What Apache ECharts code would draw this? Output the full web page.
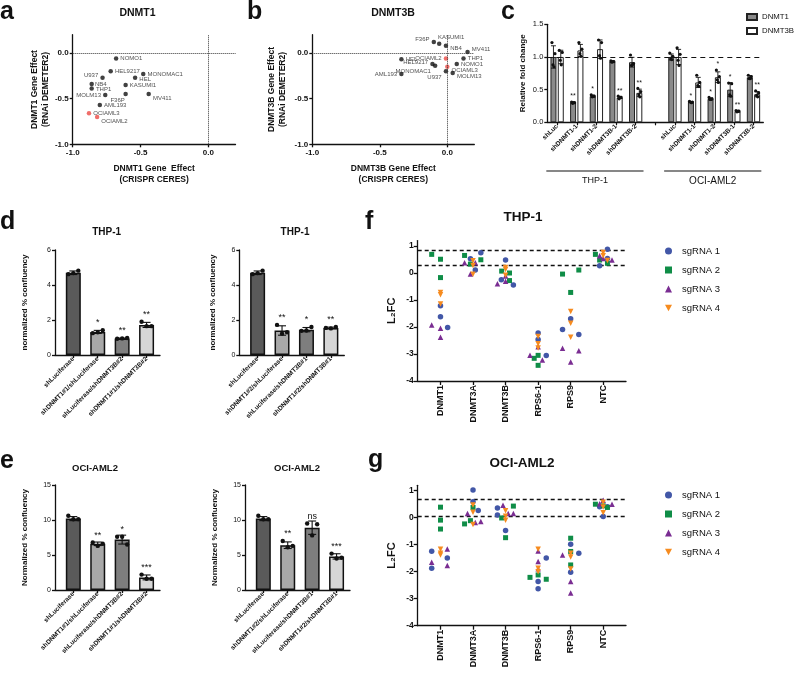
<!DOCTYPE html>
<html>
<head>
<meta charset="utf-8">
<script src="https://cdn.jsdelivr.net/npm/echarts@6/dist/echarts.min.js"></script>
<style>
html, body { margin: 0; padding: 0; background: #fff; }
#main { width: 798px; height: 676px; }
</style>
</head>
<body>
<div id="main"></div>
<script>
'use strict';

// ---- a / b : DepMap gene effect per AML cell line ----
const cellLines = ['NOMO1', 'HEL9217', 'MONOMAC1', 'U937', 'HEL', 'NB4', 'KASUMI1', 'THP1', 'MOLM13', 'F36P', 'MV411', 'AML193', 'OCIAML3', 'OCIAML2'];
const dnmt1Crispr = [-0.68, -0.72, -0.48, -0.78, -0.54, -0.86, -0.61, -0.86, -0.76, -0.61, -0.44, -0.80, -0.88, -0.82];
const dnmt1Rnai = [-0.06, -0.20, -0.23, -0.27, -0.27, -0.34, -0.35, -0.39, -0.46, -0.45, -0.45, -0.57, -0.66, -0.70];
const dnmt3bCrispr = [0.07, -0.11, -0.09, -0.01, -0.34, -0.01, -0.06, 0.12, 0.04, -0.10, 0.15, -0.34, 0.00, -0.01];
const dnmt3bRnai = [-0.12, -0.12, -0.14, -0.20, -0.07, 0.08, 0.10, -0.06, -0.22, 0.12, 0.01, -0.23, -0.15, -0.06];
const highlighted = ['OCIAML3', 'OCIAML2'];

// ---- c : knockdown qPCR ----
const kdCats = ['shLuc', 'shDNMT1-1', 'shDNMT1-2', 'shDNMT3B-1', 'shDNMT3B-2', '', 'shLuc', 'shDNMT1-1', 'shDNMT1-2', 'shDNMT3B-1', 'shDNMT3B-2'];
const kdGroups = ['THP-1', 'OCI-AML2'];
const dnmt1Fold = [1.00, 0.30, 0.40, 0.93, 0.92, null, 1.00, 0.31, 0.36, 0.50, 0.69];
const dnmt3bFold = [1.00, 1.10, 1.12, 0.38, 0.45, null, 1.00, 0.61, 0.69, 0.17, 0.43];
const dnmt1Reps = [[1.22, 1.05, 0.88, 0.85], [0.31, 0.30, 0.29, 0.30], [0.42, 0.40, 0.39, 0.40], [0.94, 0.93, 0.92, 0.93], [1.03, 0.90, 0.87, 0.88], null,
  [1.06, 1.01, 0.97, 0.96], [0.32, 0.31, 0.31, 0.30], [0.38, 0.36, 0.35, 0.35], [0.60, 0.59, 0.42, 0.40], [0.72, 0.70, 0.67, 0.67]];
const dnmt3bReps = [[1.10, 1.07, 0.95, 0.88], [1.22, 1.12, 1.05, 1.01], [1.26, 1.22, 1.02, 0.98], [0.40, 0.38, 0.36, 0.38], [0.52, 0.47, 0.42, 0.39], null,
  [1.14, 1.04, 0.95, 0.87], [0.72, 0.61, 0.56, 0.55], [0.80, 0.70, 0.65, 0.61], [0.18, 0.17, 0.16, 0.17], [0.48, 0.45, 0.41, 0.39]];
const dnmt1Stars = ['', '**', '*', '', '', '', '', '*', '*', '*', ''];
const dnmt3bStars = ['', '', '', '**', '**', '', '', '', '*', '**', '**'];

// ---- d / e : confluency ----
const combos1 = ['shLuciferase', 'shDNMT1#1/shLuciferase', 'shLuciferase/shDNMT3B#2', 'shDNMT1#1/shDNMT3B#2'];
const combos2 = ['shLuciferase', 'shDNMT1#2/shLuciferase', 'shLuciferase/shDNMT3B#1', 'shDNMT1#2/shDNMT3B#1'];
const thpConf1 = [4.70, 1.32, 0.95, 1.72];
const thpConf1Reps = [[4.62, 4.68, 4.82], [1.25, 1.30, 1.42], [0.93, 0.95, 0.97], [1.90, 1.65, 1.65]];
const thpConf1Stars = ['', '*', '**', '**'];
const thpConf2 = [4.70, 1.40, 1.45, 1.55];
const thpConf2Reps = [[4.62, 4.68, 4.82], [1.72, 1.22, 1.30], [1.38, 1.40, 1.60], [1.55, 1.52, 1.60]];
const thpConf2Stars = ['', '**', '*', '**'];
const ociConf1 = [10.2, 6.6, 7.2, 1.8];
const ociConf1Reps = [[10.6, 10.1, 10.1], [6.8, 6.3, 6.6], [7.6, 7.6, 6.5], [2.2, 1.6, 1.6]];
const ociConf1Stars = ['', '**', '*', '***'];
const ociConf2 = [10.2, 6.4, 8.9, 4.8];
const ociConf2Reps = [[10.6, 10.1, 10.1], [7.0, 6.1, 6.3], [9.5, 7.8, 9.4], [5.2, 4.5, 4.6]];
const ociConf2Stars = ['', '**', 'ns', '***'];

// ---- f / g : CRISPR screen L2FC, [target index, jitter, L2FC] ----
const targets = ['DNMT1', 'DNMT3A', 'DNMT3B', 'RPS6-1', 'RPS9', 'NTC'];
const sgNames = ['sgRNA 1', 'sgRNA 2', 'sgRNA 3', 'sgRNA 4'];
const thpSg1 = [[0, 0, -1.21], [0, 0, -1.62], [0, 0.22, -2.02], [1, -0.08, 0.53], [1, 0.07, 0.11], [1, 0.24, 0.75], [2, 0, 0.48], [2, -0.13, -0.25], [2, 0.24, -0.44],
  [3, 0, -2.22], [3, 0, -2.46], [3, 0.25, -3.06], [4, -0.25, -2.09], [4, 0, -1.69], [4, 0.25, -2.28], [5, -0.11, 0.27], [5, 0.13, 0.88], [5, 0.13, 0.54]];
const thpSg2 = [[0, -0.27, 0.69], [0, 0, 0.51], [0, 0, -0.17], [1, -0.26, 0.65], [1, -0.08, 0.33], [1, 0.24, 0.49], [2, -0.12, 0.07], [2, 0.12, 0.0], [2, 0.12, -0.28],
  [3, -0.12, -3.16], [3, 0, -3.05], [3, 0, -3.42], [4, -0.25, -0.04], [4, 0, -0.72], [4, 0.25, 0.11], [5, -0.24, 0.69], [5, -0.11, 0.48], [5, 0.13, 0.36]];
const thpSg3 = [[0, -0.27, -1.93], [0, 0, -2.05], [0, 0, -2.38], [1, -0.26, 0.38], [1, -0.08, -0.04], [1, 0.07, 0.38], [2, -0.25, -0.40], [2, 0, -0.11], [2, 0, -0.31],
  [3, -0.25, -3.05], [3, 0, -2.73], [3, 0.13, -3.22], [4, -0.25, -2.79], [4, 0, -3.30], [4, 0.25, -2.88], [5, -0.11, 0.64], [5, 0, 0.54], [5, 0.27, 0.48]];
const thpSg4 = [[0, 0, -0.72], [0, 0, -0.81], [0, 0, -1.15], [1, 0, 0.45], [1, 0, 0.28], [1, 0, -0.05], [2, 0, 0.20], [2, 0, 0.13], [2, 0, -0.08],
  [3, 0, -2.35], [3, 0, -2.62], [3, 0, -2.78], [4, 0, -1.43], [4, 0, -1.86], [4, 0, -2.38], [5, 0, 0.76], [5, 0, 0.64], [5, 0.13, 0.46]];
const ociSg1 = [[0, -0.27, -1.24], [0, -0.27, -1.87], [0, 0.21, -1.49], [1, 0, 1.03], [1, 0, 0.59], [1, 0.16, 0.27], [2, -0.25, 0.36], [2, -0.25, 0.10], [2, 0, -0.47],
  [3, 0, -2.36], [3, 0, -2.63], [3, 0.25, -1.49], [4, 0, -0.98], [4, 0, -2.02], [4, 0.25, -1.32], [5, 0, 0.04], [5, -0.11, 0.41], [5, 0.13, 0.41]];
const ociSg2 = [[0, 0, 0.39], [0, 0, -0.09], [0, 0, -0.42], [1, -0.26, -0.23], [1, -0.08, -0.11], [1, 0, 0.38], [2, -0.12, -0.01], [2, 0, -0.74], [2, 0.24, 0.43],
  [3, -0.25, -2.21], [3, 0, -2.12], [3, 0.25, -2.28], [4, 0, -0.76], [4, 0, -1.25], [4, 0, -1.75], [5, -0.24, 0.50], [5, 0, 0.44], [5, 0.13, 0.38]];
const ociSg3 = [[0, -0.27, -1.65], [0, 0.21, -1.16], [0, 0.21, -1.77], [1, -0.17, 0.16], [1, 0.07, -0.18], [1, 0.24, -0.14], [2, -0.08, 0.46], [2, 0.08, 0.16], [2, 0.24, 0.16],
  [3, 0, -1.23], [3, 0, -1.62], [3, 0, -1.89], [4, -0.25, -1.38], [4, 0, -2.36], [4, 0, -2.79], [5, 0, 0.65], [5, 0.27, 0.50], [5, -0.11, 0.52]];
const ociSg4 = [[0, 0, -1.17], [0, 0, -1.32], [0, 0, -1.38], [1, 0, 0.47], [1, 0, 0.20], [1, 0, -0.25], [2, 0, 0.26], [2, 0, -0.09], [2, 0, 0.05],
  [3, 0, -1.17], [3, 0, -1.87], [3, 0, -2.00], [4, 0, -1.46], [4, 0, -1.32], [4, 0, -1.90], [5, 0, 0.57], [5, 0, 0.18], [5, 0, 0.40]];
const thpCutoffs = [0.83, 0.28];
const ociCutoffs = [0.69, 0.07];

// ---------------------------------------------------------------
const FONT = 'Arial, "Liberation Sans", Helvetica, sans-serif';
const INK = '#111';
const RED = '#ec4a45';
const sgColors = ['#4257a7', '#0f8d47', '#7a2d92', '#f68b1f'];
const sgSymbols = ['circle', 'rect', 'triangle', 'path://M0,0L10,0L5,9Z'];
const sgSizes = [5.5, 5, 5.5, 5.5];
const confColors = ['#5a5a5a', '#a8a8a8', '#7e7e7e', '#d6d6d6'];

function stdev(arr) {
    let m = arr.reduce((s, v) => s + v, 0) / arr.length;
    let ss = arr.reduce((s, v) => s + (v - m) * (v - m), 0);
    return Math.sqrt(ss / (arr.length - 1));
}

function valueAxis(p) {
    return {
        type: 'value', gridIndex: p.grid, min: p.min, max: p.max,
        name: p.name || '', nameLocation: 'middle', nameGap: p.nameGap || 20,
        nameTextStyle: {color: INK, fontFamily: FONT, fontWeight: 'bold', fontSize: p.nameSize || 8.5, lineHeight: p.nameLH || 11},
        axisLine: {show: true, onZero: false, lineStyle: {color: INK, width: 1.3}},
        axisTick: {show: true, length: p.tickLen || 3, customValues: p.ticks, lineStyle: {color: INK, width: 1.3}},
        axisLabel: {
            show: true, customValues: p.ticks, formatter: p.fmt, color: INK, fontFamily: FONT,
            fontSize: p.labelSize || 8, fontWeight: p.labelWeight || 'bold', margin: p.margin || 4,
            rotate: p.rotate || 0
        },
        splitLine: {show: false}
    };
}

const fix1 = v => v.toFixed(1);
const int0 = v => String(Math.round(v));

// 散点标签位置 [position, dx, dy]
const labelSideA = {
    NOMO1: ['right', 0, 0], HEL9217: ['right', 0, 0], MONOMAC1: ['right', 0, 0], U937: ['left', 0, -2],
    HEL: ['right', 0, 2], NB4: ['right', -1, 0], KASUMI1: ['right', 0, 0], THP1: ['right', 0, 1],
    MOLM13: ['left', 0, 0], F36P: ['bottom', -8, -1], MV411: ['right', 0, 4], AML193: ['right', 0, 0],
    OCIAML3: ['right', 0, 0], OCIAML2: ['right', 0, 4]
};
const labelSideB = {
    NOMO1: ['right', 0, 0], HEL9217: ['left', 0, -2], MONOMAC1: ['left', 0, 6], U937: ['left', 0, 6],
    HEL: ['right', 0, 0], NB4: ['right', 0, 3], KASUMI1: ['top', 12, 1], THP1: ['right', 0, 0],
    MOLM13: ['right', 0, 3], F36P: ['left', 0, -3], MV411: ['right', 0, -3], AML193: ['left', 0, 0],
    OCIAML3: ['right', 0, 4], OCIAML2: ['left', 0, 0]
};

function scatterPanel(gi, xs, ys, sides) {
    return {
        type: 'scatter', name: 'lines' + gi, xAxisIndex: gi, yAxisIndex: gi, symbolSize: 4.5, z: 3,
        data: cellLines.map((n, i) => ({
            name: n, value: [xs[i], ys[i]],
            itemStyle: {color: highlighted.indexOf(n) >= 0 ? RED : INK},
            label: {position: sides[n][0], offset: [sides[n][1], sides[n][2]]}
        })),
        label: {show: true, formatter: '{b}', fontSize: 6, fontFamily: FONT, color: '#222', distance: 2},
        markLine: {
            silent: true, symbol: 'none', label: {show: false},
            lineStyle: {type: 'dotted', color: '#333', width: 1},
            data: [{xAxis: 0}, {yAxis: 0}]
        }
    };
}

// 误差线 + 重复点 + 显著性标记
function repLayer(cfg) {
    return {
        type: 'custom', name: cfg.name, xAxisIndex: cfg.gi, yAxisIndex: cfg.gi, z: 5, silent: true,
        data: cfg.means.map((m, i) => [i, m == null ? 0 : m]),
        encode: {x: 0, y: 1},
        renderItem: function (params, api) {
            let i = params.dataIndex;
            let reps = cfg.reps[i];
            if (!reps) return null;
            let m = cfg.means[i];
            let sd = stdev(reps);
            let cx = api.coord([i, m])[0] + cfg.dx;
            let yTop = api.coord([i, m + sd])[1];
            let yBot = api.coord([i, Math.max(m - sd, 0)])[1];
            let ln = {stroke: INK, lineWidth: cfg.lw};
            let kids = [
                {type: 'line', shape: {x1: cx, y1: yTop, x2: cx, y2: yBot}, style: ln},
                {type: 'line', shape: {x1: cx - cfg.cap, y1: yTop, x2: cx + cfg.cap, y2: yTop}, style: ln},
                {type: 'line', shape: {x1: cx - cfg.cap, y1: yBot, x2: cx + cfg.cap, y2: yBot}, style: ln}
            ];
            let hi = yTop;
            reps.forEach((v, k) => {
                let py = api.coord([i, v])[1];
                hi = Math.min(hi, py - cfg.r);
                kids.push({type: 'circle', shape: {cx: cx + cfg.jitter[k % cfg.jitter.length], cy: py, r: cfg.r}, style: {fill: INK}});
            });
            let star = cfg.stars[i];
            if (star) {
                kids.push({
                    type: 'text',
                    style: {
                        text: star, x: cx, y: hi - 0.5, align: 'center', verticalAlign: 'bottom',
                        textAlign: 'center', textVerticalAlign: 'bottom',
                        font: cfg.starFont, fill: INK
                    }
                });
            }
            return {type: 'group', children: kids};
        }
    };
}

function confBars(gi, means) {
    return {
        type: 'bar', name: 'conf' + gi, xAxisIndex: gi, yAxisIndex: gi, barWidth: 15, silent: true, z: 2,
        itemStyle: {borderColor: INK, borderWidth: 1.5},
        data: means.map((m, i) => ({value: [i, m], itemStyle: {color: confColors[i]}}))
    };
}

function confReps(gi, means, reps, stars) {
    return repLayer({
        name: 'confReps' + gi, gi: gi, means: means, reps: reps, stars: stars, dx: 0,
        cap: 4, r: 2.2, lw: 1.1, jitter: [-5, 0, 5], starFont: '9px ' + FONT
    });
}

function sgSeries(gi, sets, cutoffs) {
    return sets.map((pts, k) => {
        let s = {
            type: 'scatter', name: sgNames[k], xAxisIndex: gi, yAxisIndex: gi,
            symbol: sgSymbols[k], symbolSize: sgSizes[k], z: 3 + k * 0.1,
            itemStyle: {color: sgColors[k], opacity: 1},
            data: pts.map(p => [p[0] + p[1], p[2]])
        };
        if (k === 0) {
            s.markLine = {
                silent: true, symbol: 'none', label: {show: false}, z: 1,
                lineStyle: {type: [4, 3], color: INK, width: 1.3},
                data: cutoffs.map(c => ({yAxis: c}))
            };
        }
        return s;
    });
}

function txt(text, x, y, size, weight, align, vAlign) {
    return {
        type: 'text', x: x, y: y, silent: true,
        style: {
            text: text, font: weight + ' ' + size + 'px ' + FONT, fill: INK,
            align: align || 'center', verticalAlign: vAlign || 'middle',
            textAlign: align || 'center', textVerticalAlign: vAlign || 'middle'
        }
    };
}

// ---- grids ----
const gridBox = [
    {left: 72.7, top: 34.7, width: 162.8, height: 109.6},   // a
    {left: 312.3, top: 34.7, width: 162, height: 109.6},    // b
    {left: 547.3, top: 24.3, width: 216, height: 98},       // c
    {left: 55, top: 250, width: 105, height: 105},          // d left
    {left: 239.3, top: 250, width: 105, height: 105},       // d right
    {left: 55, top: 485, width: 105, height: 105},          // e left
    {left: 245, top: 485, width: 105, height: 105},         // e right
    {left: 417.7, top: 240.6, width: 208.3, height: 140.4}, // f
    {left: 417.7, top: 485.3, width: 208.3, height: 140.4}  // g
];

const xAxes = [];
const yAxes = [];

// a, b
xAxes.push(valueAxis({grid: 0, min: -1, max: 0.2, ticks: [-1, -0.5, 0], fmt: fix1, name: 'DNMT1 Gene  Effect\n(CRISPR CERES)', nameGap: 19}));
yAxes.push(valueAxis({grid: 0, min: -1, max: 0.2, ticks: [-1, -0.5, 0], fmt: fix1, name: 'DNMT1 Gene Effect\n(RNAi DEMETER2)', nameGap: 22}));
xAxes.push(valueAxis({grid: 1, min: -1, max: 0.2, ticks: [-1, -0.5, 0], fmt: fix1, name: 'DNMT3B Gene Effect\n(CRISPR CERES)', nameGap: 19}));
yAxes.push(valueAxis({grid: 1, min: -1, max: 0.2, ticks: [-1, -0.5, 0], fmt: fix1, name: 'DNMT3B Gene Effect\n(RNAi DEMETER2)', nameGap: 24}));

// c
xAxes.push({
    type: 'category', gridIndex: 2, data: kdCats, boundaryGap: true,
    axisLine: {show: true, onZero: false, lineStyle: {color: INK, width: 1.3}},
    axisTick: {show: true, alignWithLabel: true, length: 3, lineStyle: {color: INK, width: 1.2}},
    axisLabel: {interval: 0, rotate: 45, fontSize: 6.5, fontWeight: 'bold', fontFamily: FONT, color: INK, margin: 3}
});
yAxes.push(valueAxis({grid: 2, min: 0, max: 1.5, ticks: [0, 0.5, 1, 1.5], fmt: fix1, name: 'Relative fold change', nameGap: 19, nameSize: 8, labelWeight: 'normal', labelSize: 7.5}));

// d, e
[[3, combos1, 6, 'normalized % confluency', 25], [4, combos2, 6, 'normalized % confluency', 21],
 [5, combos1, 15, 'Normalized % confluency', 25], [6, combos2, 15, 'Normalized % confluency', 25]].forEach(c => {
    xAxes.push(valueAxis({grid: c[0], min: -0.75, max: 3.55, ticks: [0, 1, 2, 3], fmt: v => c[1][Math.round(v)], rotate: 45, labelSize: 6.5, margin: 3}));
    let step = c[2] / 3;
    yAxes.push(valueAxis({grid: c[0], min: 0, max: c[2], ticks: [0, step, 2 * step, 3 * step], fmt: int0, name: c[3], nameGap: c[4], nameSize: 8, labelSize: 7, labelWeight: 'normal'}));
});

// f, g
[7, 8].forEach(gi => {
    xAxes.push(valueAxis({grid: gi, min: -0.7, max: 5.7, ticks: [0, 1, 2, 3, 4, 5], fmt: v => targets[Math.round(v)], rotate: 90, labelSize: 9, margin: 4, tickLen: 4}));
    yAxes.push(valueAxis({grid: gi, min: -4, max: 1.2, ticks: [-4, -3, -2, -1, 0, 1], fmt: int0, name: 'L\u2082FC', nameGap: 20, nameSize: 11, labelSize: 8.5, tickLen: 4}));
});

const series = [];
series.push(scatterPanel(0, dnmt1Crispr, dnmt1Rnai, labelSideA));
series.push(scatterPanel(1, dnmt3bCrispr, dnmt3bRnai, labelSideB));

// c bars
series.push({
    type: 'bar', name: 'DNMT1', xAxisIndex: 2, yAxisIndex: 2, barWidth: 6, barGap: '22%', z: 2, silent: true,
    itemStyle: {color: '#8a8a8a', borderColor: '#222', borderWidth: 1},
    data: dnmt1Fold,
    markLine: {
        silent: true, symbol: 'none', label: {show: false},
        lineStyle: {type: [5, 4], color: INK, width: 1.2},
        data: [{yAxis: 1}]
    }
});
series.push({
    type: 'bar', name: 'DNMT3B', xAxisIndex: 2, yAxisIndex: 2, barWidth: 6, barGap: '22%', z: 2, silent: true,
    itemStyle: {color: '#ffffff', borderColor: '#222', borderWidth: 1},
    data: dnmt3bFold
});
series.push(repLayer({name: 'dnmt1Reps', gi: 2, means: dnmt1Fold, reps: dnmt1Reps, stars: dnmt1Stars, dx: -3.66, cap: 2.5, r: 1.6, lw: 0.9, jitter: [-1.5, 1.5, -0.5, 0.5], starFont: '7px ' + FONT}));
series.push(repLayer({name: 'dnmt3bReps', gi: 2, means: dnmt3bFold, reps: dnmt3bReps, stars: dnmt3bStars, dx: 3.66, cap: 2.5, r: 1.6, lw: 0.9, jitter: [-1.5, 1.5, -0.5, 0.5], starFont: '7px ' + FONT}));

// d, e
series.push(confBars(3, thpConf1), confReps(3, thpConf1, thpConf1Reps, thpConf1Stars));
series.push(confBars(4, thpConf2), confReps(4, thpConf2, thpConf2Reps, thpConf2Stars));
series.push(confBars(5, ociConf1), confReps(5, ociConf1, ociConf1Reps, ociConf1Stars));
series.push(confBars(6, ociConf2), confReps(6, ociConf2, ociConf2Reps, ociConf2Stars));

// f, g
sgSeries(7, [thpSg1, thpSg2, thpSg3, thpSg4], thpCutoffs).forEach(s => series.push(s));
sgSeries(8, [ociSg1, ociSg2, ociSg3, ociSg4], ociCutoffs).forEach(s => series.push(s));

// c 分组下划线
const cBox = gridBox[2];
const cw = cBox.width / kdCats.length;
const catX = i => cBox.left + (i + 0.5) * cw;
const groupLines = [[0, 4, kdGroups[0], 9], [6, 10, kdGroups[1], 10]];

const graphics = [
    txt('a', 0, 25, 25, 'bold', 'left', 'bottom'),
    txt('b', 247, 25, 25, 'bold', 'left', 'bottom'),
    txt('c', 501, 25, 25, 'bold', 'left', 'bottom'),
    txt('d', 0, 235, 25, 'bold', 'left', 'bottom'),
    txt('e', 0, 474, 25, 'bold', 'left', 'bottom'),
    txt('f', 365, 235, 25, 'bold', 'left', 'bottom'),
    txt('g', 368, 473, 25, 'bold', 'left', 'bottom'),
    txt('DNMT1', 137.5, 13, 10.5, 'bold'),
    txt('DNMT3B', 393, 13, 10.5, 'bold'),
    txt('THP-1', 106.7, 232, 10, 'bold'),
    txt('THP-1', 295, 232, 10, 'bold'),
    txt('OCI-AML2', 95, 468, 9.5, 'bold'),
    txt('OCI-AML2', 297, 468, 9.5, 'bold'),
    txt('THP-1', 523, 217, 13.5, 'bold'),
    txt('OCI-AML2', 522, 463.5, 13.5, 'bold')
];
groupLines.forEach(g => {
    let x1 = catX(g[0]) - 0.55 * cw;
    let x2 = catX(g[1]) + 0.4 * cw;
    graphics.push({type: 'line', silent: true, shape: {x1: x1, y1: 171, x2: x2, y2: 171}, style: {stroke: INK, lineWidth: 1.2}});
    graphics.push(txt(g[2], (x1 + x2) / 2, 181, g[3], 'normal'));
});

const myChart = echarts.init(document.getElementById('main'));
myChart.setOption({
    animation: false,
    backgroundColor: '#fff',
    textStyle: {fontFamily: FONT},
    grid: gridBox.map(b => Object.assign({containLabel: false, outerBoundsMode: 'none'}, b)),
    xAxis: xAxes,
    yAxis: yAxes,
    legend: [{
        left: 746, top: 13, orient: 'vertical', selectedMode: false, padding: 0,
        itemWidth: 10, itemHeight: 6, itemGap: 6, icon: 'rect',
        data: ['DNMT1', 'DNMT3B'],
        textStyle: {fontSize: 7.8, color: INK, fontFamily: FONT}
    }, {
        left: 665, top: 245, orient: 'vertical', selectedMode: false, padding: 0,
        itemWidth: 7, itemHeight: 7, itemGap: 7,
        data: sgNames,
        textStyle: {fontSize: 9.5, color: INK, fontFamily: FONT, lineHeight: 12, padding: [0, 0, 0, 5]}
    }, {
        left: 665, top: 489, orient: 'vertical', selectedMode: false, padding: 0,
        itemWidth: 7, itemHeight: 7, itemGap: 7,
        data: sgNames,
        textStyle: {fontSize: 9.5, color: INK, fontFamily: FONT, lineHeight: 12, padding: [0, 0, 0, 5]}
    }],
    graphic: graphics,
    series: series
});
</script>
</body>
</html>
